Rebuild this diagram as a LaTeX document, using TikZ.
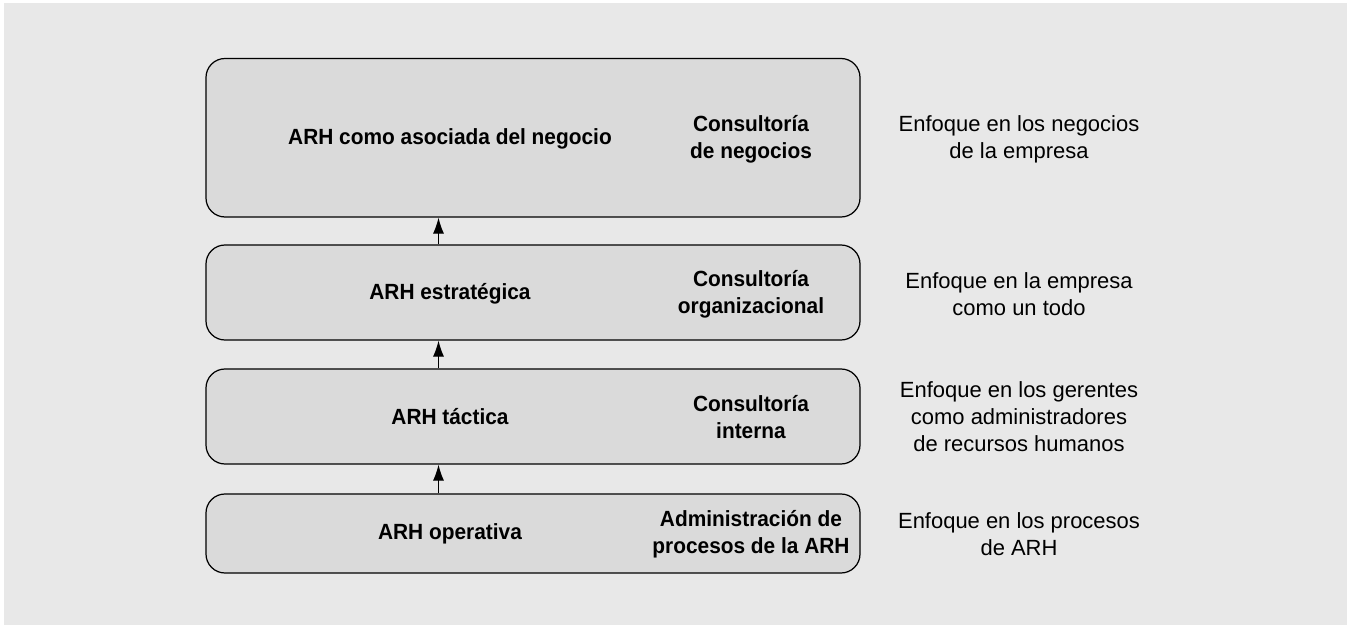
\documentclass[tikz,border=0pt]{standalone}
\usepackage{fontspec}
\setmainfont{Liberation Sans}
\newfontfamily\condfont{Liberation Sans}[FakeStretch=0.95]
\usetikzlibrary{arrows.meta}
\definecolor{bgcol}{HTML}{E8E8E8}
\definecolor{boxcol}{HTML}{DADADA}
\tikzset{
  levelbox/.style={draw, line width=0.7pt, fill=boxcol, rounded corners=0.38cm,
    minimum width=13.08cm, inner sep=0pt},
  lefttext/.style={font=\condfont\bfseries\fontsize{12.5}{15.3}\selectfont, align=center, inner sep=0pt},
  righttext/.style={font=\fontsize{12.5}{15.3}\selectfont, align=center, inner sep=0pt},
  uparrow/.style={line width=0.65pt, -{Latex[length=3.2mm,width=2.2mm]}}
}

\begin{document}
\begin{tikzpicture}
% background
\useasboundingbox (0,0) rectangle (26.96,12.5);
\fill[bgcol] (0.08,0) rectangle (26.94,12.44);

% the four levels
\node[levelbox, minimum height=3.17cm] (asociada) at (10.66,9.745) {};
\node[levelbox, minimum height=1.9cm] (estrategica) at (10.66,6.65) {};
\node[levelbox, minimum height=1.9cm] (tactica) at (10.66,4.17) {};
\node[levelbox, minimum height=1.58cm] (operativa) at (10.66,1.83) {};

% names of the levels
\node[lefttext] (asociadaName) at (9.0,9.72) {ARH como asociada del negocio};
\node[lefttext] (estrategicaName) at (9.0,6.62) {ARH estratégica};
\node[lefttext] (tacticaName) at (9.0,4.16) {ARH táctica};
\node[lefttext] (operativaName) at (9.0,1.82) {ARH operativa};

% kind of consulting
\node[lefttext] (asociadaRole) at (15.02,9.72) {Consultoría\\de negocios};
\node[lefttext] (estrategicaRole) at (15.02,6.62) {Consultoría\\organizacional};
\node[lefttext] (tacticaRole) at (15.02,4.16) {Consultoría\\interna};
\node[lefttext] (operativaRole) at (15.02,1.82) {Administración de\\procesos de la ARH};

% focus
\node[righttext] (asociadaFocus) at (20.38,9.72) {Enfoque en los negocios\\de la empresa};
\node[righttext] (estrategicaFocus) at (20.38,6.62) {Enfoque en la empresa\\como un todo};
\node[righttext] (tacticaFocus) at (20.38,4.16) {Enfoque en los gerentes\\como administradores\\de recursos humanos};
\node[righttext] (operativaFocus) at (20.38,1.82) {Enfoque en los procesos\\de ARH};

% arrows between levels
\coordinate (axis) at (8.77,0);
\draw[uparrow] (axis |- operativa.north) -- (axis |- tactica.south);
\draw[uparrow] (axis |- tactica.north) -- (axis |- estrategica.south);
\draw[uparrow] (axis |- estrategica.north) -- (axis |- asociada.south);
\end{tikzpicture}
\end{document}
